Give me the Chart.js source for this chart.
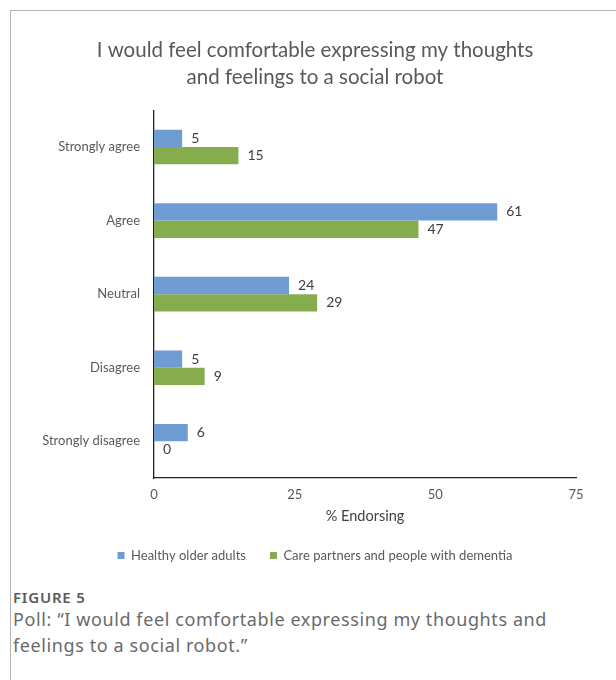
<!DOCTYPE html>
<html lang="en">
<head>
  <meta charset="UTF-8" />
  <title>Figure 5</title>
  <script src="https://cdn.jsdelivr.net/npm/chart.js"></script>
  <style>
    html, body {
      margin: 0;
      padding: 0;
      background: #fff;
      overflow: hidden;
      font-family: "Noto Sans", sans-serif;
    }
    .frame {
      position: absolute;
      left: 10px;
      top: 10px;
      width: 606px;
      height: 670px;
      border-left: 1px solid #b5b5b5;
      border-top: 1px solid #b5b5b5;
    }
    .chart-box {
      position: relative;
      width: 605px;
      height: 570px;
    }
    .fig-label {
      margin: 6px 0 0 2px;
      font-size: 15px;
      font-weight: 600;
      color: #5a5a5a;
      letter-spacing: 0.8px;
    }
    .fig-caption {
      margin: -1px 0 0 2px;
      font-size: 18px;
      line-height: 26px;
      letter-spacing: 0.6px;
      color: #6a6a6a;
      width: 560px;
    }
  </style>
</head>
<body>
  <div class="frame">
    <div class="chart-box">
      <canvas id="pollChart"></canvas>
    </div>
    <div class="fig-label">FIGURE 5</div>
    <div class="fig-caption">Poll: “I would feel comfortable expressing my thoughts and feelings to a social robot.”</div>
  </div>

  <script>
    const categories = ['Strongly agree', 'Agree', 'Neutral', 'Disagree', 'Strongly disagree'];
    const healthyOlder = [5, 61, 24, 5, 6];
    const carePartners = [15, 47, 29, 9, 0];
    const xTicks = [0, 25, 50, 75];

    // value labels at the end of each bar
    const barLabels = {
      id: 'barLabels',
      afterDatasetsDraw(chart) {
        const ctx = chart.ctx;
        ctx.save();
        ctx.font = '14px Lato, sans-serif';
        ctx.fillStyle = '#404040';
        ctx.textAlign = 'left';
        ctx.textBaseline = 'middle';
        chart.data.datasets.forEach((ds, i) => {
          chart.getDatasetMeta(i).data.forEach((bar, j) => {
            ctx.fillText(ds.data[j], bar.x + 9, bar.y);
          });
        });
        ctx.restore();
      }
    };

    // title and legend sit a bit right of the canvas centre in the original
    const shiftBlocks = {
      id: 'shiftBlocks',
      afterLayout(chart) {
        [chart.titleBlock, chart.legend].forEach(b => {
          if (b) b.left += 43;
        });
      }
    };

    const ctx = document.getElementById('pollChart').getContext('2d');
    new Chart(ctx, {
      type: 'bar',
      data: {
        labels: categories,
        datasets: [{
          label: 'Healthy older adults',
          data: healthyOlder,
          backgroundColor: '#6f9cd3',
          categoryPercentage: 0.47,
          barPercentage: 1
        }, {
          label: 'Care partners and people with dementia',
          data: carePartners,
          backgroundColor: '#85ad4e',
          categoryPercentage: 0.47,
          barPercentage: 1
        }]
      },
      options: {
        indexAxis: 'y',
        responsive: true,
        maintainAspectRatio: false,
        animation: false,
        layout: { padding: { top: 16, right: 40, bottom: 9, left: 0 } },
        plugins: {
          title: {
            display: true,
            text: ['I would feel comfortable expressing my thoughts', 'and feelings to a social robot'],
            color: '#595959',
            font: { family: 'Lato', size: 20.5, weight: 'normal', lineHeight: 1.3 },
            padding: { top: 10, bottom: 20 }
          },
          legend: {
            position: 'bottom',
            labels: {
              color: '#595959',
              font: { family: 'Lato', size: 13 },
              boxWidth: 7,
              boxHeight: 7,
              padding: 24
            }
          },
          tooltip: { enabled: false }
        },
        scales: {
          x: {
            min: 0,
            max: 75,
            afterBuildTicks: s => { s.ticks = xTicks.map(v => ({ value: v })); },
            grid: { display: false, drawTicks: false },
            border: { color: '#222', width: 1.3 },
            ticks: { color: '#595959', font: { family: 'Lato', size: 13 }, padding: 9 },
            title: {
              display: true,
              text: '% Endorsing',
              color: '#404040',
              font: { family: 'Lato', size: 14.5 },
              padding: { top: -4, bottom: 0 }
            }
          },
          y: {
            afterFit: s => { s.width = 143; },
            grid: { display: false, drawTicks: false },
            border: { color: '#222', width: 1.3 },
            ticks: { color: '#595959', font: { family: 'Lato', size: 13 }, padding: 14 }
          }
        }
      },
      plugins: [barLabels, shiftBlocks]
    });
  </script>
</body>
</html>
